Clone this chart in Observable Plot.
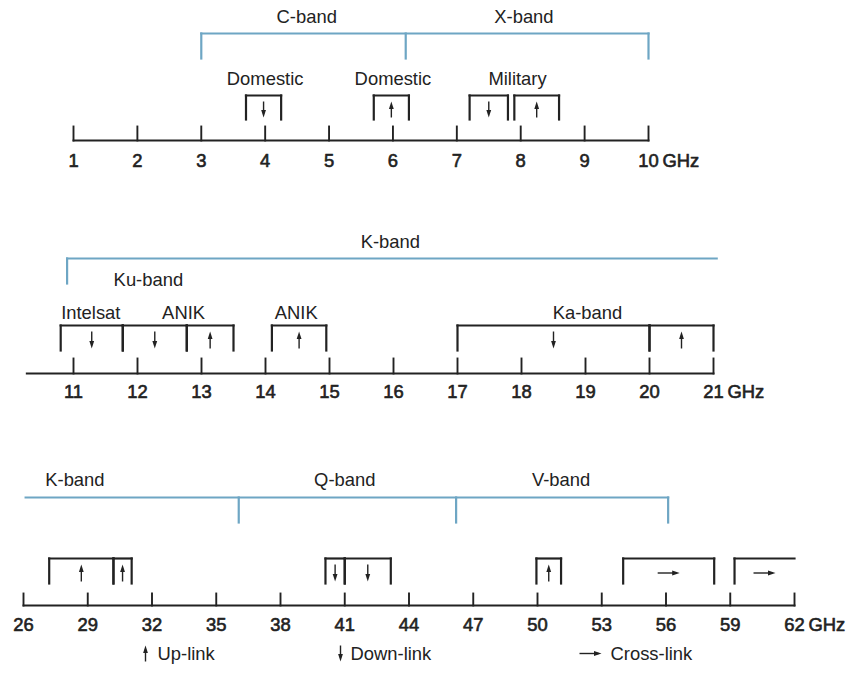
<!DOCTYPE html>
<html>
<head>
<meta charset="utf-8">
<script src="https://cdn.jsdelivr.net/npm/d3@7"></script>
<script src="https://cdn.jsdelivr.net/npm/@observablehq/plot@0.6"></script>
<style>
  html, body { margin: 0; padding: 0; background: #fff; }
  #chart svg { display: block; }
</style>
</head>
<body>
<div id="chart"></div>
<script>
// ---------------- DATA ----------------
// Panel 1: 1–10 GHz
const p1Ticks = [1, 2, 3, 4, 5, 6, 7, 8, 9, 10];
const p1BandNames = ["C-band", "X-band"];
const p1BandLabelAt = [4.65, 8.05];
const p1BandSpan = [3, 10];
const p1BandDrops = [3, 6.2, 10];
const p1AllocLabels = ["Domestic", "Domestic", "Military"];
const p1AllocLabelAt = [4.0, 6.0, 7.95];
const p1SegStart = [3.7, 5.7, 7.2, 7.9];
const p1SegEnd = [4.25, 6.25, 7.8, 8.6];
const p1SegLink = ["down", "up", "down", "up"];

// Panel 2: 11–21 GHz
const p2Ticks = [11, 12, 13, 14, 15, 16, 17, 18, 19, 20, 21];
const p2AxisFrom = 10.27;
const p2BandNames = ["K-band"];
const p2BandLabelAt = [15.95];
const p2BandSpan = [10.9, 21.05];
const p2BandDrops = [10.9];
const p2SubBandName = ["Ku-band"];
const p2SubBandAt = [12.17];
const p2AllocLabels = ["Intelsat", "ANIK", "ANIK", "Ka-band"];
const p2AllocLabelAt = [11.27, 12.72, 14.48, 19.03];
const p2SegStart = [10.8, 11.77, 12.77, 14.1, 17, 20];
const p2SegEnd = [11.77, 12.77, 13.5, 14.95, 20, 21];
const p2SegLink = ["down", "down", "up", "up", "down", "up"];

// Panel 3: 26–62 GHz
const p3Ticks = [26, 29, 32, 35, 38, 41, 44, 47, 50, 53, 56, 59, 62];
const p3BandNames = ["K-band", "Q-band", "V-band"];
const p3BandLabelAt = [28.4, 41.0, 51.1];
const p3BandSpan = [26.1, 56.1];
const p3BandDrops = [36.05, 46.2, 56.1];
const p3SegStart = [27.2, 30.2, 40.1, 41.0, 49.95, 54.0, 59.2];
const p3SegEnd = [30.2, 31.05, 41.0, 43.15, 51.1, 58.25, 62.0];
const p3SegLink = ["up", "up", "down", "down", "up", "cross", "cross"];
const p3SegOpenRight = [false, false, false, false, false, false, true];

// Legend
const legendLabels = ["Up-link", "Down-link", "Cross-link"];
const legendLinks = ["up", "down", "cross"];

// ---------------- STYLE / LAYOUT ----------------
const W = 848;
const INK = "#222";
const BLUE = "#6ea6c4";
const FONT = "'Liberation Sans', Arial, Helvetica, sans-serif";
const FS = 18.4;

const headSym = {
  draw(ctx) {
    ctx.moveTo(0, -5);
    ctx.lineTo(2.4, 2.5);
    ctx.lineTo(-2.4, 2.5);
    ctx.closePath();
  }
};

function arrowParts(kind, xc, yTop, yBot, pxPerUnit, links, heads) {
  if (kind === "cross") {
    const y = (yTop + yBot) / 2;
    const h = 11 / pxPerUnit;
    links.push({x1: xc - h, x2: xc + h - 3 / pxPerUnit, y1: y, y2: y});
    heads.push({x: xc + h - 5 / pxPerUnit, y, rot: 90});
  } else if (kind === "up") {
    links.push({x1: xc, x2: xc, y1: yBot, y2: yTop + 4});
    heads.push({x: xc, y: yTop + 5, rot: 0});
  } else {
    links.push({x1: xc, x2: xc, y1: yTop, y2: yBot - 4});
    heads.push({x: xc, y: yBot - 5, rot: 180});
  }
}

function panel(cfg) {
  const {height, domain, marginLeft, marginRight, L} = cfg;
  const pxPerUnit = (W - marginLeft - marginRight) / (domain[1] - domain[0]);
  const axisLines = [], bandLines = [], segLines = [], shafts = [], heads = [];

  axisLines.push({x1: cfg.axisFrom ?? domain[0], x2: domain[1], y1: L.axis, y2: L.axis});
  cfg.ticks.forEach(t => axisLines.push({x1: t, x2: t, y1: L.tickTop, y2: L.axis}));

  bandLines.push({x1: cfg.bandSpan[0], x2: cfg.bandSpan[1], y1: L.band, y2: L.band});
  cfg.bandDrops.forEach(x => bandLines.push({x1: x, x2: x, y1: L.band, y2: L.bandDrop}));

  cfg.segStart.forEach((s, i) => {
    const e = cfg.segEnd[i];
    segLines.push({x1: s, x2: e, y1: L.segTop, y2: L.segTop});
    segLines.push({x1: s, x2: s, y1: L.segTop, y2: L.segBottom});
    if (!(cfg.segOpenRight && cfg.segOpenRight[i]))
      segLines.push({x1: e, x2: e, y1: L.segTop, y2: L.segBottom});
    arrowParts(cfg.segLink[i], (s + e) / 2, L.segTop + 6, L.segBottom - 2, pxPerUnit, shafts, heads);
  });

  const lastTick = cfg.ticks[cfg.ticks.length - 1];
  const texts = [];
  cfg.bandNames.forEach((n, i) => texts.push({x: cfg.bandLabelAt[i], y: L.bandLabel, t: n}));
  (cfg.allocLabels || []).forEach((n, i) => texts.push({x: cfg.allocLabelAt[i], y: L.allocLabel, t: n}));
  (cfg.subNames || []).forEach((n, i) => texts.push({x: cfg.subAt[i], y: L.subLabel, t: n}));

  const lineOpts = {x1: "x1", x2: "x2", y1: "y1", y2: "y2"};
  const tickTextStyle = {fontSize: FS, fill: INK, stroke: INK, strokeWidth: 0.6};
  return Plot.plot({
    width: W, height,
    marginLeft, marginRight, marginTop: 0, marginBottom: 0,
    style: {fontFamily: FONT, background: "#fff", overflow: "visible"},
    x: {domain, axis: null},
    y: {domain: [0, height], range: [0, height], axis: null},
    marks: [
      Plot.link(axisLines, {...lineOpts, stroke: INK, strokeWidth: 1.9, strokeLinecap: "square"}),
      Plot.link(bandLines, {...lineOpts, stroke: BLUE, strokeWidth: 2.2, strokeLinecap: "square"}),
      Plot.link(segLines, {...lineOpts, stroke: INK, strokeWidth: 2.2, strokeLinecap: "square"}),
      Plot.link(shafts, {...lineOpts, stroke: INK, strokeWidth: 1.4}),
      Plot.dot(heads, {x: "x", y: "y", rotate: "rot", symbol: headSym, r: 3, fill: INK, stroke: "none"}),
      Plot.text(texts, {x: "x", y: "y", text: "t", fontSize: FS, fill: INK}),
      Plot.text(cfg.ticks, {x: d => d, y: () => L.tickLabel, text: d => String(d), ...tickTextStyle}),
      Plot.text([lastTick], {x: d => d, y: () => L.tickLabel, text: () => "GHz", dx: 14,
        textAnchor: "start", ...tickTextStyle})
    ]
  });
}

const chart = document.getElementById("chart");

chart.append(panel({
  height: 200, domain: [1, 10], marginLeft: 73, marginRight: 200,
  L: {bandLabel: 17, band: 33, bandDrop: 58, allocLabel: 79, segTop: 95, segBottom: 119,
      tickTop: 126, axis: 140, tickLabel: 161},
  ticks: p1Ticks, bandNames: p1BandNames, bandLabelAt: p1BandLabelAt,
  bandSpan: p1BandSpan, bandDrops: p1BandDrops,
  allocLabels: p1AllocLabels, allocLabelAt: p1AllocLabelAt,
  segStart: p1SegStart, segEnd: p1SegEnd, segLink: p1SegLink
}));

chart.append(panel({
  height: 240, domain: [11, 21], marginLeft: 73, marginRight: 135, axisFrom: p2AxisFrom,
  L: {bandLabel: 42, band: 58, bandDrop: 83, subLabel: 80, allocLabel: 113, segTop: 125, segBottom: 150,
      tickTop: 158, axis: 173, tickLabel: 192},
  ticks: p2Ticks, bandNames: p2BandNames, bandLabelAt: p2BandLabelAt,
  bandSpan: p2BandSpan, bandDrops: p2BandDrops,
  subNames: p2SubBandName, subAt: p2SubBandAt,
  allocLabels: p2AllocLabels, allocLabelAt: p2AllocLabelAt,
  segStart: p2SegStart, segEnd: p2SegEnd, segLink: p2SegLink
}));

chart.append(panel({
  height: 200, domain: [26, 62], marginLeft: 23, marginRight: 54,
  L: {bandLabel: 40, band: 57, bandDrop: 82, segTop: 118, segBottom: 143,
      tickTop: 153, axis: 165, tickLabel: 185},
  ticks: p3Ticks, bandNames: p3BandNames, bandLabelAt: p3BandLabelAt,
  bandSpan: p3BandSpan, bandDrops: p3BandDrops,
  segStart: p3SegStart, segEnd: p3SegEnd, segLink: p3SegLink, segOpenRight: p3SegOpenRight
}));

// Legend row
(function () {
  const arrowX = [145, 340, 590];
  const textX = [157, 350, 610];
  const shafts = [], heads = [];
  legendLinks.forEach((k, i) => arrowParts(k, arrowX[i], 5, 21, 1, shafts, heads));
  const items = legendLabels.map((t, i) => ({x: textX[i], y: 14, t}));
  chart.append(Plot.plot({
    width: W, height: 49, margin: 0,
    style: {fontFamily: FONT, background: "#fff"},
    x: {domain: [0, W], range: [0, W], axis: null},
    y: {domain: [0, 49], range: [0, 49], axis: null},
    marks: [
      Plot.link(shafts, {x1: "x1", x2: "x2", y1: "y1", y2: "y2", stroke: INK, strokeWidth: 1.4}),
      Plot.dot(heads, {x: "x", y: "y", rotate: "rot", symbol: headSym, r: 3, fill: INK, stroke: "none"}),
      Plot.text(items, {x: "x", y: "y", text: "t", textAnchor: "start", fontSize: FS, fill: INK})
    ]
  }));
})();
</script>
</body>
</html>
